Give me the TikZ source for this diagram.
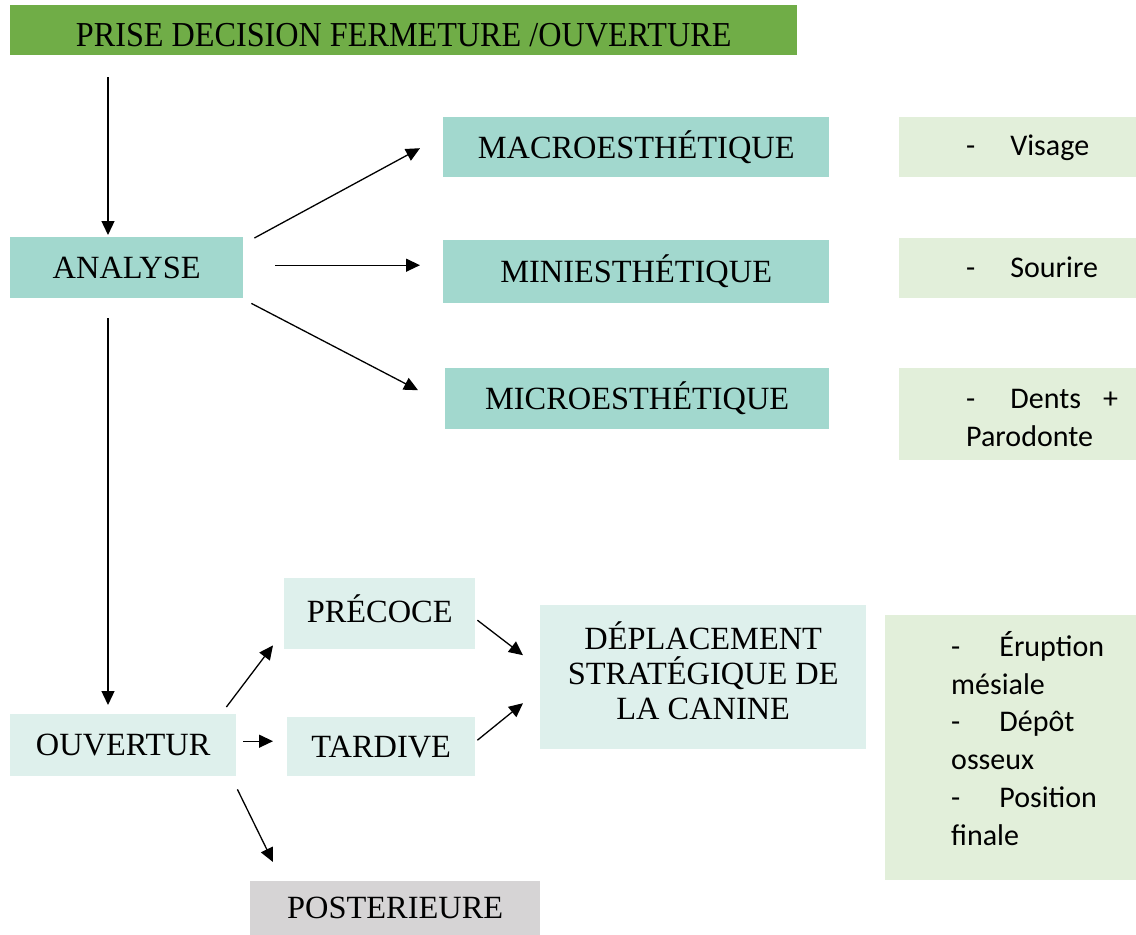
\documentclass[tikz,border=0pt]{standalone}
\usepackage{graphicx}
\usepackage{fontspec}
\setmainfont{Liberation Serif}
\newfontfamily\carl{Carlito}
\usetikzlibrary{arrows.meta}
\definecolor{topgreen}{RGB}{112,173,71}
\definecolor{teal}{RGB}{162,216,206}
\definecolor{lteal}{RGB}{222,240,236}
\definecolor{lgreen}{RGB}{226,239,218}
\definecolor{grey}{RGB}{214,212,213}
\begin{document}
\begin{tikzpicture}[x=1pt,y=-1pt,
  box/.style={rectangle, inner sep=0pt, anchor=north west, align=center,
    font=\fontsize{32.4}{35}\selectfont},
  sbox/.style={rectangle, inner sep=0pt, anchor=north west, fill=lgreen},
  stext/.style={inner sep=0pt, align=left, font=\carl\fontsize{30}{37.8}\selectfont},
  arr/.style={line width=1.3pt, -{Triangle[length=14pt,width=13pt]}}]
\useasboundingbox (0,0) rectangle (1136,935);
% top
\node[box, fill=topgreen, minimum width=787pt, minimum height=50pt,
  font=\fontsize{35}{40}\selectfont, text height=33pt, text depth=0pt] (top) at (10,5)
  {\scalebox{0.92}[1]{PRISE DECISION FERMETURE /OUVERTURE}};
% analyse
\node[box, fill=teal, minimum width=233pt, minimum height=61pt] (analyse) at (10,237) {ANALYSE};
\node[box, fill=teal, minimum width=386pt, minimum height=60pt] (macro) at (443,117) {MACROESTHÉTIQUE\rule{0pt}{26pt}};
\node[box, fill=teal, minimum width=386pt, minimum height=63pt] (mini) at (443,240) {MINIESTHÉTIQUE};
\node[box, fill=teal, minimum width=384pt, minimum height=61pt] (micro) at (445,368) {MICROESTHÉTIQUE};
% right boxes
\node[sbox, minimum width=237pt, minimum height=60pt] (visbox) at (899,117) {};
\node[sbox, minimum width=237pt, minimum height=60pt] (soubox) at (899,238) {};
\node[sbox, minimum width=237pt, minimum height=92pt] (denbox) at (899,368) {};
\node[stext, anchor=west] (vis) at (966,148) {-\hspace{35pt}Visage};
\node[stext, anchor=west] (sou) at (966,267) {-\hspace{35pt}Sourire};
\node[stext, anchor=north west] (den) at (966,389) {-\hspace{35pt}Dents\hspace{22pt}+\\Parodonte};
% ouverture
\node[box, fill=lteal, minimum width=226pt, minimum height=62pt] (ouv) at (10,714) {OUVERTUR};
\node[box, fill=lteal, minimum width=191pt, minimum height=71pt] (pre) at (284,578) {PRÉCOCE\rule[-10pt]{0pt}{1pt}};
\node[box, fill=lteal, minimum width=188pt, minimum height=59pt] (tar) at (287,717) {TARDIVE};
\node[box, fill=lteal, minimum width=326pt, minimum height=144pt] (dep) at (540,605)
  {DÉPLACEMENT\\STRATÉGIQUE DE\\LA CANINE\rule[-14pt]{0pt}{1pt}};
\node[box, fill=grey, minimum width=290pt, minimum height=54pt] (post) at (250,881) {POSTERIEURE};
\node[sbox, minimum width=251pt, minimum height=265pt] (fbox) at (885,615) {};
\node[stext, anchor=north west] (fin) at (951,631)
  {-\hspace{39pt}Éruption\\mésiale\\-\hspace{39pt}Dépôt\\osseux\\-\hspace{39pt}Position\\finale};
% arrows
\draw[arr] ([xshift=98pt]analyse.north west |- top.south) ++(0,22) -- ([xshift=98pt,yshift=2pt]analyse.north west);
\draw[arr] ([xshift=98pt,yshift=-20pt]analyse.south west) -- ([xshift=98pt,yshift=9pt]analyse.south west |- ouv.north);
\draw[arr] ([xshift=11pt,yshift=-1pt]analyse.north east) -- ([xshift=-23pt,yshift=-1pt]macro.west);
\draw[arr] ([xshift=32pt,yshift=2.5pt]analyse.east) -- ([xshift=-23pt,yshift=6.5pt]mini.west);
\draw[arr] ([xshift=8pt,yshift=-5pt]analyse.south east) -- ([xshift=-27pt,yshift=8.5pt]micro.west);
\draw[arr] ([xshift=-10pt,yshift=7pt]ouv.north east) -- ([xshift=-11pt,yshift=4pt]pre.south west);
\draw[arr] ([xshift=7pt,yshift=4pt]ouv.east) -- ([xshift=-14pt,yshift=5.5pt]tar.west);
\draw[arr] ([xshift=1pt,yshift=-13pt]ouv.south east) -- ([xshift=23pt,yshift=19pt]post.north west);
\draw[arr] ([xshift=2pt,yshift=-6.5pt]pre.east) -- ([xshift=-17pt,yshift=22pt]dep.west);
\draw[arr] ([xshift=2pt,yshift=6.5pt]tar.east) -- ([xshift=-17pt,yshift=-26pt]dep.west);
\end{tikzpicture}
\end{document}
